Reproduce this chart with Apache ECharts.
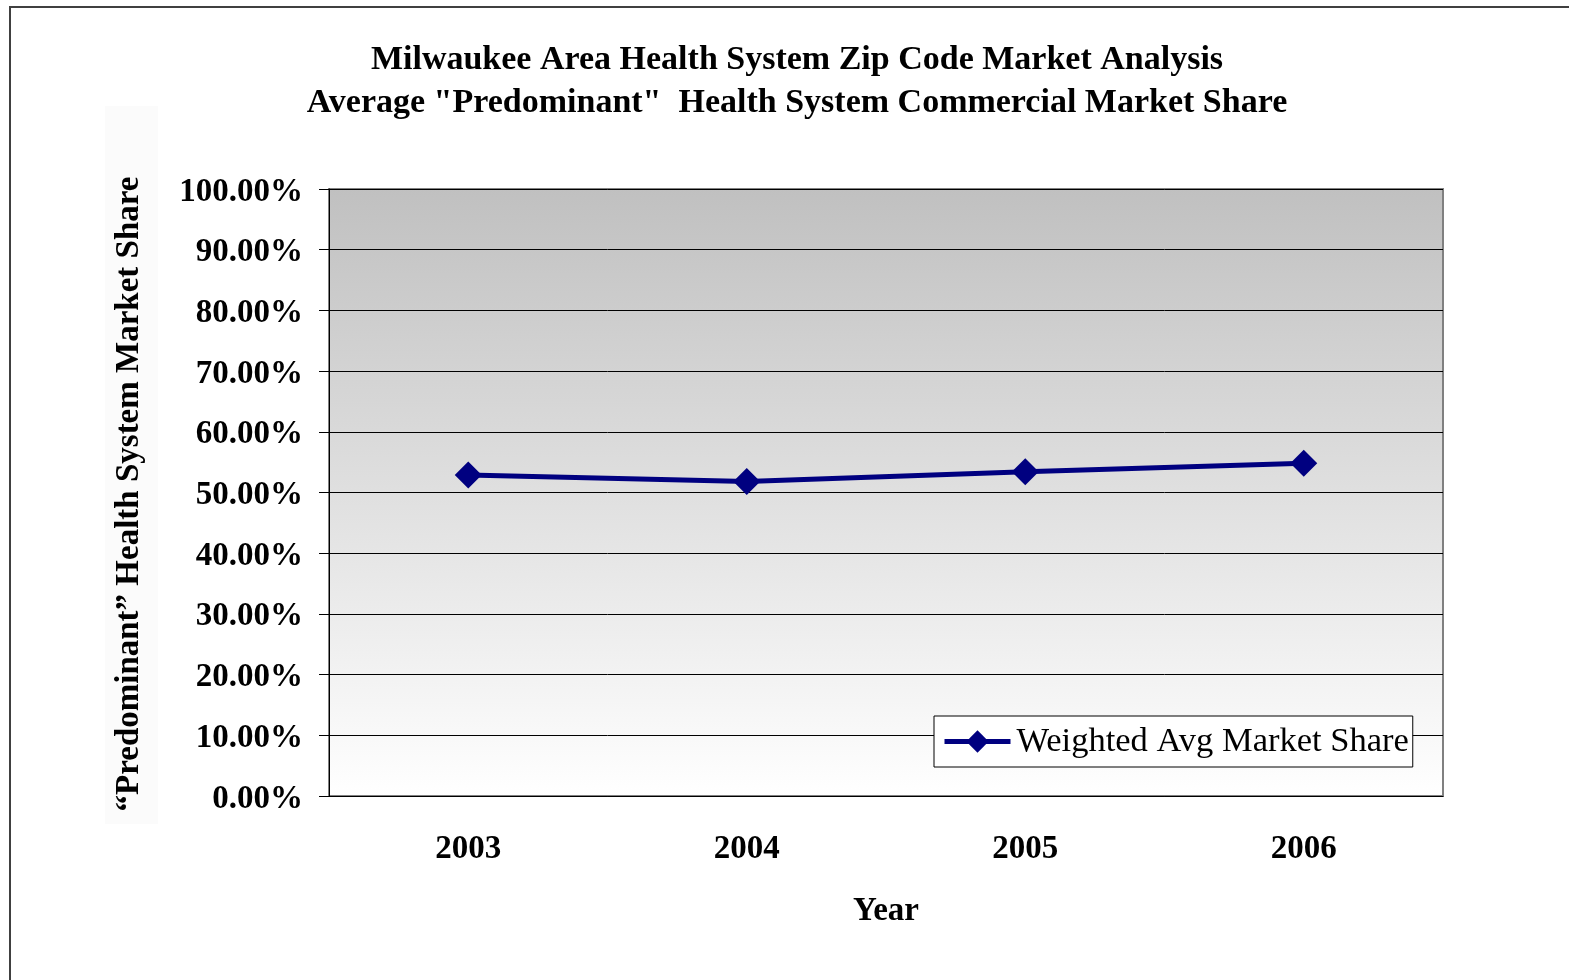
<!DOCTYPE html>
<html>
<head>
<meta charset="utf-8">
<script src="https://cdn.jsdelivr.net/npm/echarts@6/dist/echarts.min.js"></script>
<style>
html, body { margin: 0; padding: 0; background: #fff; }
#chart { width: 1569px; height: 980px; }
</style>
</head>
<body>
<div id="chart"></div>
<script>
// data
const years = ['2003', '2004', '2005', '2006']
const weightedAvgShare = [52.9, 51.8, 53.4, 54.8]
const seriesName = 'Weighted Avg Market Share'

const serif = '"Liberation Serif", "DejaVu Serif", serif'
const myChart = echarts.init(document.getElementById('chart'))

const option = {
    animation: false,
    backgroundColor: '#fff',
    title: {
        text: 'Milwaukee Area Health System Zip Code Market Analysis\nAverage "Predominant"  Health System Commercial Market Share',
        left: 792,
        textAlign: 'center',
        top: 34,
        textStyle: {
            fontFamily: serif,
            fontWeight: 'bold',
            fontSize: 34,
            lineHeight: 43,
            color: '#000'
        }
    },
    graphic: [
        {
            type: 'rect',
            shape: { x: 10, y: 7, width: 1600, height: 1000 },
            style: { fill: 'none', stroke: '#404040', lineWidth: 2 },
            silent: true
        },
        {
            type: 'rect',
            shape: { x: 105, y: 106, width: 53, height: 718 },
            style: { fill: '#fbfbfb' },
            silent: true,
            z: -1
        }
    ],
    legend: {
        data: [seriesName],
        left: 934,
        top: 716,
        padding: [8, 4, 8, 8],
        backgroundColor: '#fff',
        borderColor: '#000',
        borderWidth: 1,
        itemWidth: 66,
        itemHeight: 28,
        itemGap: 0,
        lineStyle: { width: 5 },
        textStyle: {
            fontFamily: serif,
            fontSize: 34.5,
            color: '#000',
            padding: [0, 0, 0, 1]
        }
    },
    grid: {
        left: 329,
        right: 126,
        top: 189,
        bottom: 184,
        show: true,
        borderColor: '#808080',
        borderWidth: 2,
        backgroundColor: new echarts.graphic.LinearGradient(0, 0, 0, 1, [
            { offset: 0, color: '#c0c0c0' },
            { offset: 1, color: '#ffffff' }
        ])
    },
    xAxis: {
        type: 'category',
        data: years,
        name: 'Year',
        nameLocation: 'middle',
        nameGap: 99,
        nameTextStyle: {
            fontFamily: serif,
            fontWeight: 'bold',
            fontSize: 33,
            color: '#000'
        },
        axisLine: { lineStyle: { color: '#000', width: 1 } },
        axisTick: { length: 8, lineStyle: { color: '#000' } },
        axisLabel: {
            margin: 37,
            fontFamily: serif,
            fontWeight: 'bold',
            fontSize: 33,
            color: '#000'
        }
    },
    yAxis: {
        type: 'value',
        min: 0,
        max: 100,
        interval: 10,
        name: '\u201cPredominant\u201d Health System Market Share',
        nameLocation: 'middle',
        nameGap: 183,
        nameTextStyle: {
            fontFamily: serif,
            fontWeight: 'bold',
            fontSize: 33,
            color: '#000',
            padding: [0, 3, 0, 0]
        },
        axisLine: { show: true, lineStyle: { color: '#000', width: 1 } },
        axisTick: { show: true, length: 10, lineStyle: { color: '#000' } },
        splitLine: { lineStyle: { color: '#000', width: 1 } },
        axisLabel: {
            margin: 26,
            color: '#000',
            formatter: v => '{t|' + v.toFixed(2) + '%}',
            rich: {
                t: {
                    fontFamily: serif,
                    fontWeight: 'bold',
                    fontSize: 33,
                    color: '#000',
                    padding: [6, 0, 0, 0]
                }
            }
        }
    },
    series: [
        {
            name: seriesName,
            type: 'line',
            data: weightedAvgShare,
            symbol: 'diamond',
            symbolSize: 27,
            lineStyle: { color: '#000080', width: 5 },
            itemStyle: { color: '#000080' }
        }
    ]
}

myChart.setOption(option)
</script>
</body>
</html>
